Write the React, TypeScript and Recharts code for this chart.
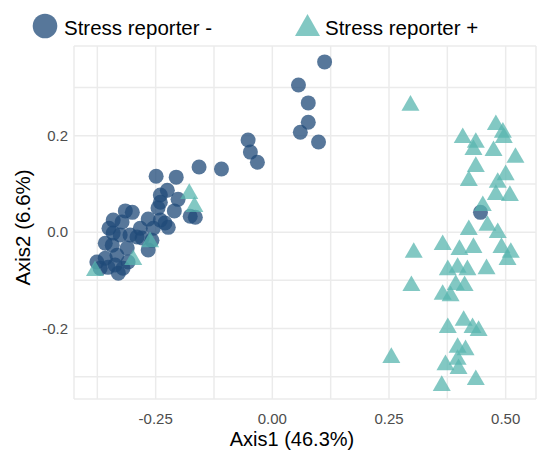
import React from 'react';
import { ScatterChart, Scatter, XAxis, YAxis, CartesianGrid, Legend } from 'recharts';

// Stress reporter - (circles): [Axis1, Axis2]
const negX = [0.112, 0.056, 0.077, 0.077, 0.06, 0.099, -0.052, -0.047, -0.032, -0.109, -0.157, -0.249, -0.206, -0.225, -0.24, -0.24, -0.202, -0.245, -0.21, -0.176, -0.165, -0.315, -0.3, -0.341, -0.266, -0.24, -0.23, -0.223, -0.255, -0.35, -0.341, -0.326, -0.305, -0.29, -0.279, -0.258, -0.358, -0.343, -0.311, -0.266, -0.333, -0.358, -0.309, -0.376, -0.352, -0.369, -0.32, -0.33, -0.337, -0.283, -0.322, 0.446];
const negY = [0.353, 0.305, 0.268, 0.228, 0.207, 0.187, 0.191, 0.166, 0.145, 0.131, 0.135, 0.116, 0.114, 0.087, 0.077, 0.062, 0.068, 0.05, 0.044, 0.033, 0.031, 0.044, 0.041, 0.025, 0.027, 0.025, 0.019, 0.01, 0.008, 0.008, -0.002, -0.006, -0.006, -0.01, -0.012, -0.017, -0.023, -0.027, -0.033, -0.037, -0.048, -0.054, -0.062, -0.062, -0.073, -0.075, -0.075, -0.085, -0.068, 0.008, 0.021, 0.041];

// Stress reporter + (triangles)
const posX = [0.296, 0.408, 0.479, 0.494, 0.496, 0.436, 0.431, 0.474, 0.521, 0.436, 0.5, 0.421, 0.483, 0.479, 0.509, 0.451, 0.461, 0.421, 0.483, 0.365, 0.303, 0.401, 0.431, 0.491, 0.511, 0.504, 0.376, 0.397, 0.418, 0.459, 0.298, 0.393, 0.412, 0.365, 0.382, 0.41, 0.376, 0.429, 0.442, 0.397, 0.414, 0.255, 0.397, 0.371, 0.399, 0.436, 0.363, -0.178, -0.167, -0.298, -0.38, -0.262];
const posY = [0.268, 0.201, 0.228, 0.212, 0.201, 0.191, 0.176, 0.174, 0.16, 0.141, 0.124, 0.112, 0.108, 0.083, 0.081, 0.06, 0.019, 0.01, 0.004, -0.021, -0.037, -0.031, -0.027, -0.027, -0.037, -0.052, -0.073, -0.068, -0.073, -0.071, -0.106, -0.104, -0.106, -0.124, -0.127, -0.178, -0.193, -0.193, -0.199, -0.234, -0.239, -0.255, -0.259, -0.27, -0.278, -0.301, -0.313, 0.085, 0.058, -0.052, -0.075, -0.015];

const xTicks = [-0.375, -0.25, -0.125, 0, 0.125, 0.25, 0.375, 0.5];
const yTicks = [-0.3, -0.2, -0.1, 0, 0.1, 0.2, 0.3];
const xMajor = [-0.25, 0, 0.25, 0.5];
const yMajor = [-0.2, 0, 0.2];

const seriesNames = ['Stress reporter -', 'Stress reporter +'];
const xTitle = 'Axis1 (46.3%)';
const yTitle = 'Axis2 (6.6%)';

const negData = negX.map((x, i) => ({ x, y: negY[i] }));
const posData = posX.map((x, i) => ({ x, y: posY[i] }));

const CIRCLE_FILL = '#1f4a78';
const TRI_FILL = '#58b6af';
const ALPHA = 0.75;
const FONT = '"Liberation Sans", Arial, Helvetica, sans-serif';

const CircleShape = (props: any) => (
  <circle cx={props.cx} cy={props.cy} r={7.5} fill={CIRCLE_FILL} fillOpacity={ALPHA} />
);

const TriangleShape = (props: any) => {
  const s = 18;
  const h = 15.6;
  const { cx, cy } = props;
  const pts = `${cx},${cy - h / 2} ${cx - s / 2},${cy + h / 2} ${cx + s / 2},${cy + h / 2}`;
  return <polygon points={pts} fill={TRI_FILL} fillOpacity={ALPHA} />;
};

const fmtX = (v: number) => (xMajor.some((m) => Math.abs(m - v) < 1e-9) ? v.toFixed(2) : '');
const fmtY = (v: number) => (yMajor.some((m) => Math.abs(m - v) < 1e-9) ? v.toFixed(1) : '');

const LegendContent = () => (
  <svg width={547} height={46} style={{ display: 'block' }}>
    <circle cx={45} cy={26} r={12.3} fill={CIRCLE_FILL} fillOpacity={ALPHA} />
    <text x={64} y={35} fontSize={20.5} fontFamily={FONT} fill="#000">{seriesNames[0]}</text>
    <polygon points="307.5,14 295,36 320,36" fill={TRI_FILL} fillOpacity={ALPHA} />
    <text x={325} y={35} fontSize={20.5} fontFamily={FONT} fill="#000">{seriesNames[1]}</text>
  </svg>
);

export default function App() {
  return (
    <div style={{ position: 'absolute', left: 0, top: 0, width: 547, height: 451, background: '#fff' }}>
      <ScatterChart width={547} height={451} margin={{ top: 0, right: 11, bottom: 0, left: 0 }}>
        <CartesianGrid stroke="#ebebeb" strokeWidth={1.5} />
        <XAxis
          type="number"
          dataKey="x"
          domain={[-0.425, 0.565]}
          ticks={xTicks}
          interval={0}
          tickFormatter={fmtX}
          axisLine={false}
          tickLine={false}
          tickSize={0}
          tickMargin={14}
          height={52}
          tick={{ fontSize: 15, fill: '#4d4d4d', fontFamily: FONT }}
          label={{
            content: (p: any) => {
              const vb = p.viewBox || { x: 74, y: 399, width: 462, height: 52 };
              return (
                <text x={vb.x + vb.width / 2 - 13} y={vb.y + vb.height - 5} textAnchor="middle" fontSize={20} fontFamily={FONT} fill="#000">
                  {xTitle}
                </text>
              );
            },
          }}
        />
        <YAxis
          type="number"
          dataKey="y"
          domain={[-0.346, 0.386]}
          ticks={yTicks}
          interval={0}
          tickFormatter={fmtY}
          axisLine={false}
          tickLine={false}
          tickSize={0}
          tickMargin={6}
          width={74}
          tick={{ fontSize: 15, fill: '#4d4d4d', fontFamily: FONT }}
          label={{
            content: (p: any) => {
              const vb = p.viewBox || { x: 0, y: 46, width: 74, height: 353 };
              const cx = vb.x + 22;
              const cy = vb.y + vb.height / 2 + 5;
              return (
                <text transform={`translate(${cx},${cy}) rotate(-90)`} textAnchor="middle" dominantBaseline="central" fontSize={20.5} fontFamily={FONT} fill="#000">
                  {yTitle}
                </text>
              );
            },
          }}
        />
        <Legend verticalAlign="top" align="left" wrapperStyle={{ top: 0, left: 0 }} content={LegendContent} />
        <Scatter name={seriesNames[0]} data={negData} shape={CircleShape} isAnimationActive={false} />
        <Scatter name={seriesNames[1]} data={posData} shape={TriangleShape} isAnimationActive={false} />
      </ScatterChart>
    </div>
  );
}
